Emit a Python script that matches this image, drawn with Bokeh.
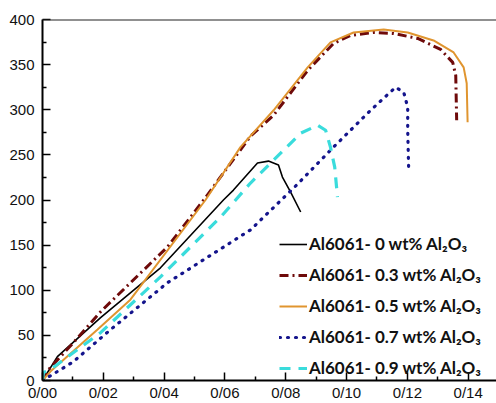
from bokeh.plotting import figure
from bokeh.models import Range1d, FixedTicker, Legend, LegendItem, Span
from bokeh.embed import file_html
from bokeh.resources import INLINE

# Strain (x) and stress (y)
x0 = [0.0, 0.0049, 0.0191, 0.0388, 0.0595, 0.0628, 0.0707, 0.0743, 0.0776, 0.0789, 0.0816, 0.0849]
y0 = [0.0, 26.5, 69.6, 124.9, 200.0, 211.0, 240.9, 243.1, 238.7, 225.4, 208.8, 186.7]

x3 = [0.0, 0.002, 0.0102, 0.0191, 0.0411, 0.053, 0.0684, 0.076, 0.0872, 0.0957, 0.1013, 0.1089,
      0.1155, 0.1234, 0.1309, 0.1349, 0.1359, 0.1362]
y3 = [0.0, 12.2, 42.0, 76.2, 148.0, 200.0, 270.7, 293.9, 343.6, 373.5, 382.3, 385.6,
      384.5, 379.0, 366.9, 352.5, 338.0, 288.4]

x5 = [0.0, 0.0026, 0.0181, 0.0289, 0.0536, 0.0651, 0.076, 0.0872, 0.0947, 0.1023, 0.1122,
      0.1201, 0.1286, 0.1352, 0.1385, 0.1395, 0.1398]
y5 = [0.0, 9.9, 56.4, 89.5, 200.0, 258.6, 299.4, 347.0, 374.6, 385.6, 389.0,
      385.6, 376.8, 363.5, 347.0, 329.3, 286.2]

x7 = [0.0, 0.0033, 0.0102, 0.0224, 0.0411, 0.0684, 0.0826, 0.0957, 0.1079, 0.1161, 0.1188,
      0.1201, 0.1201, 0.1204]
y7 = [0.0, 6.6, 21.0, 56.4, 108.3, 166.9, 213.3, 258.6, 299.4, 324.9, 319.3,
      302.8, 277.3, 236.5]

x9 = [0.0, 0.0003, 0.0026, 0.0191, 0.0388, 0.0586, 0.0684, 0.0783, 0.0849, 0.0905, 0.0931,
      0.0947, 0.0961, 0.097]
y9 = [0.0, 8.8, 12.2, 53.0, 114.9, 181.2, 218.8, 251.9, 274.0, 282.9, 277.3,
      258.6, 236.5, 203.3]

labels = ["Al6061- 0 wt% Al\u2082O\u2083",
          "Al6061- 0.3 wt% Al\u2082O\u2083",
          "Al6061- 0.5 wt% Al\u2082O\u2083",
          "Al6061- 0.7 wt% Al\u2082O\u2083",
          "Al6061- 0.9 wt% Al\u2082O\u2083"]

x_ticks = [0.0, 0.02, 0.04, 0.06, 0.08, 0.1, 0.12, 0.14]
x_tick_labels = ["0/00", "0/02", "0/04", "0/06", "0/08", "0/10", "0/12", "0/14"]
x_minor = [0.01, 0.03, 0.05, 0.07, 0.09, 0.11, 0.13]
y_ticks = [0, 50, 100, 150, 200, 250, 300, 350, 400]
y_minor = [25, 75, 125, 175, 225, 275, 325, 375]

p = figure(width=496, height=403, output_backend="svg", toolbar_location=None,
           x_range=Range1d(0, 0.1493), y_range=Range1d(0, 400),
           min_border_left=42, min_border_right=0, min_border_top=19, min_border_bottom=22)
p.outline_line_color = None
p.xgrid.visible = False
p.ygrid.visible = False
p.background_fill_color = "white"
p.border_fill_color = "white"

for ax in (p.xaxis[0], p.yaxis[0]):
    ax.axis_line_width = 2
    ax.axis_line_color = "black"
    ax.major_tick_in = 8
    ax.major_tick_out = 0
    ax.minor_tick_in = 4
    ax.minor_tick_out = 0
    ax.major_tick_line_width = 1.5
    ax.minor_tick_line_width = 1.5
    ax.major_label_text_font = "Liberation Sans"
    ax.major_label_text_font_size = "15px"
    ax.major_label_text_color = "#111111"

p.xaxis.ticker = FixedTicker(ticks=x_ticks, minor_ticks=x_minor)
p.xaxis.major_label_overrides = {t: l for t, l in zip(x_ticks, x_tick_labels)}
p.xaxis.major_label_standoff = 3
p.yaxis.ticker = FixedTicker(ticks=y_ticks, minor_ticks=y_minor)
p.yaxis.major_label_standoff = 8

p.add_layout(Span(location=400, dimension="width", line_color="#222222", line_width=2))

r0 = p.line(x0, y0, line_color="black", line_width=1.6)
r3 = p.line(x3, y3, line_color="#6e0a0a", line_width=3, line_dash="9 4 2 4")
r5 = p.line(x5, y5, line_color="#e0952f", line_width=2)
r7 = p.line(x7, y7, line_color="#14148c", line_width=3.2, line_dash="1 7", line_cap="round")
r9 = p.line(x9, y9, line_color="#3adcdc", line_width=3.2, line_dash="11 8")

legend = Legend(items=[LegendItem(label=labels[0], renderers=[r0]),
                       LegendItem(label=labels[1], renderers=[r3]),
                       LegendItem(label=labels[2], renderers=[r5]),
                       LegendItem(label=labels[3], renderers=[r7]),
                       LegendItem(label=labels[4], renderers=[r9])],
                location=(237, 2), border_line_color=None, background_fill_alpha=0,
                padding=0, margin=0, spacing=10, glyph_width=28, glyph_height=20,
                label_height=20, label_standoff=2, label_text_font="Lato",
                label_text_font_style="bold", label_text_font_size="17px",
                label_text_color="#111111")
p.add_layout(legend)

open("out.html", "w").write(file_html(p, INLINE))
